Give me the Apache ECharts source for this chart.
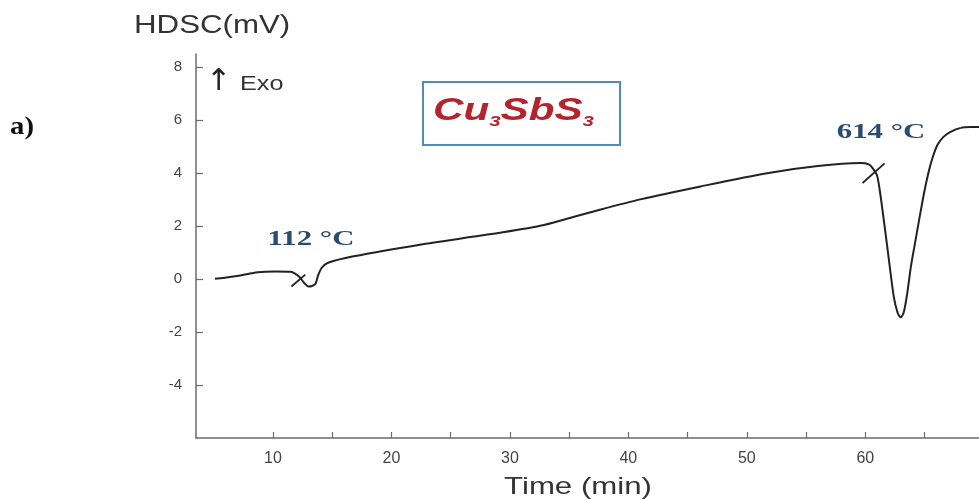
<!DOCTYPE html>
<html>
<head>
<meta charset="utf-8">
<script src="https://cdn.jsdelivr.net/npm/echarts@6/dist/echarts.min.js"></script>
<style>html,body{margin:0;padding:0;background:#fff;}#c{width:979px;height:499px;}</style>
</head>
<body>
<div id="c"></div>
<script>
// Time (min) and HDSC signal (mV)
const time = [5.1, 7.1, 8.7, 10.2, 11.5, 12.0, 12.3, 12.6, 13.0, 13.3, 13.6, 13.8, 14.1, 14.6, 16.8, 22.4, 28.1, 32.3, 33.7, 37.6, 41.0, 46.1, 51.7, 56.0, 59.6, 60.3, 60.6, 61.0, 61.3, 61.85, 62.4, 62.75, 63.0, 63.25, 63.55, 63.85, 64.25, 64.9, 65.35, 65.7, 66.1, 66.6, 67.2, 68.05, 68.9, 69.7];
const hdsc = [0.01, 0.13, 0.26, 0.29, 0.28, 0.17, 0.05, -0.13, -0.28, -0.26, -0.17, 0.13, 0.42, 0.61, 0.86, 1.30, 1.68, 1.99, 2.14, 2.62, 3.01, 3.50, 4.00, 4.27, 4.38, 4.33, 4.20, 3.90, 3.11, 1.24, -0.65, -1.30, -1.45, -1.25, -0.52, 0.47, 1.49, 3.11, 4.05, 4.61, 5.07, 5.37, 5.56, 5.71, 5.74, 5.74];
// tangent (onset) marks
const mark112Time = [11.55, 12.73];
const mark112Val = [-0.28, 0.17];
const mark614Time = [59.77, 61.63];
const mark614Val = [3.63, 4.37];
// ticks
const xTicks = [10, 15, 20, 25, 30, 35, 40, 45, 50, 55, 60, 65];
const xLabels = [10, 20, 30, 40, 50, 60];
const yTicks = [-4, -2, 0, 2, 4, 6, 8];

const pairs = (a, b) => a.map((v, i) => [v, b[i]]);

const chart = echarts.init(document.getElementById('c'));
const axisColor = '#6b6b6b';
chart.setOption({
  animation: false,
  backgroundColor: '#ffffff',
  grid: { left: 196, right: 0, top: 54, bottom: 61, containLabel: false },
  xAxis: {
    type: 'value', min: 3.5, max: 69.6,
    axisLine: { onZero: false, lineStyle: { color: axisColor, width: 1.5 } },
    axisTick: { inside: true, length: 6, customValues: xTicks, lineStyle: { color: axisColor, width: 1.2 } },
    axisLabel: { customValues: xLabels, margin: 13, color: '#444', fontSize: 16, fontFamily: 'Liberation Sans, Arial, sans-serif' },
    splitLine: { show: false }
  },
  yAxis: {
    type: 'value', min: -6, max: 8.5, interval: 2,
    axisLine: { show: true, onZero: false, lineStyle: { color: axisColor, width: 1.5 } },
    axisTick: { show: true, inside: true, length: 7, customValues: yTicks, lineStyle: { color: axisColor, width: 1.2 } },
    axisLabel: { customValues: yTicks, margin: 14, color: '#444', fontSize: 15, fontFamily: 'Liberation Sans, Arial, sans-serif' },
    splitLine: { show: false }
  },
  series: [
    { type: 'line', data: pairs(time, hdsc), showSymbol: false, smooth: 0.25,
      lineStyle: { color: '#222', width: 2 } },
    { type: 'line', data: pairs(mark112Time, mark112Val), showSymbol: false,
      lineStyle: { color: '#222', width: 1.8 } },
    { type: 'line', data: pairs(mark614Time, mark614Val), showSymbol: false,
      lineStyle: { color: '#222', width: 1.8 } }
  ],
  graphic: [
    { type: 'text', x: 10, y: 128, scaleX: 1.15, style: { text: 'a)', font: 'bold 25px "Liberation Serif", serif', fill: '#111', verticalAlign: 'middle' } },
    { type: 'text', x: 134, y: 26, scaleX: 1.25, style: { text: 'HDSC(mV)', font: '25px "Liberation Sans", Arial, sans-serif', fill: '#333', verticalAlign: 'middle' } },
    { type: 'text', x: 206, y: 82, style: { text: '↑', font: '30px "DejaVu Sans", sans-serif', fill: '#222', verticalAlign: 'middle' } },
    { type: 'text', x: 240, y: 84, scaleX: 1.2, style: { text: 'Exo', font: '21px "Liberation Sans", Arial, sans-serif', fill: '#333', verticalAlign: 'middle' } },
    { type: 'rect', shape: { x: 423, y: 82, width: 197, height: 63 }, style: { fill: 'none', stroke: '#4f8db5', lineWidth: 2 } },
    { type: 'text', x: 433, y: 111, scaleX: 1.36, style: {
        text: '{a|Cu}{s|3}{a|SbS}{s|3}', verticalAlign: 'middle',
        rich: {
          a: { font: 'italic bold 31px "Liberation Sans", Arial, sans-serif', fill: '#b3242c', lineHeight: 36 },
          s: { font: 'italic bold 15px "Liberation Sans", Arial, sans-serif', fill: '#b3242c', lineHeight: 12, verticalAlign: 'bottom' }
        } } },
    { type: 'text', x: 311, y: 239, scaleX: 1.4, style: { text: '112 °C', font: 'bold 22px "Liberation Serif", serif', fill: '#2b4b70', align: 'center', verticalAlign: 'middle' } },
    { type: 'text', x: 881, y: 132, scaleX: 1.4, style: { text: '614 °C', font: 'bold 22px "Liberation Serif", serif', fill: '#2b4b70', align: 'center', verticalAlign: 'middle' } },
    { type: 'text', x: 578, y: 487, scaleX: 1.3, style: { text: 'Time (min)', font: '24px "Liberation Sans", Arial, sans-serif', fill: '#333', align: 'center', verticalAlign: 'middle' } }
  ]
});
</script>
</body>
</html>
